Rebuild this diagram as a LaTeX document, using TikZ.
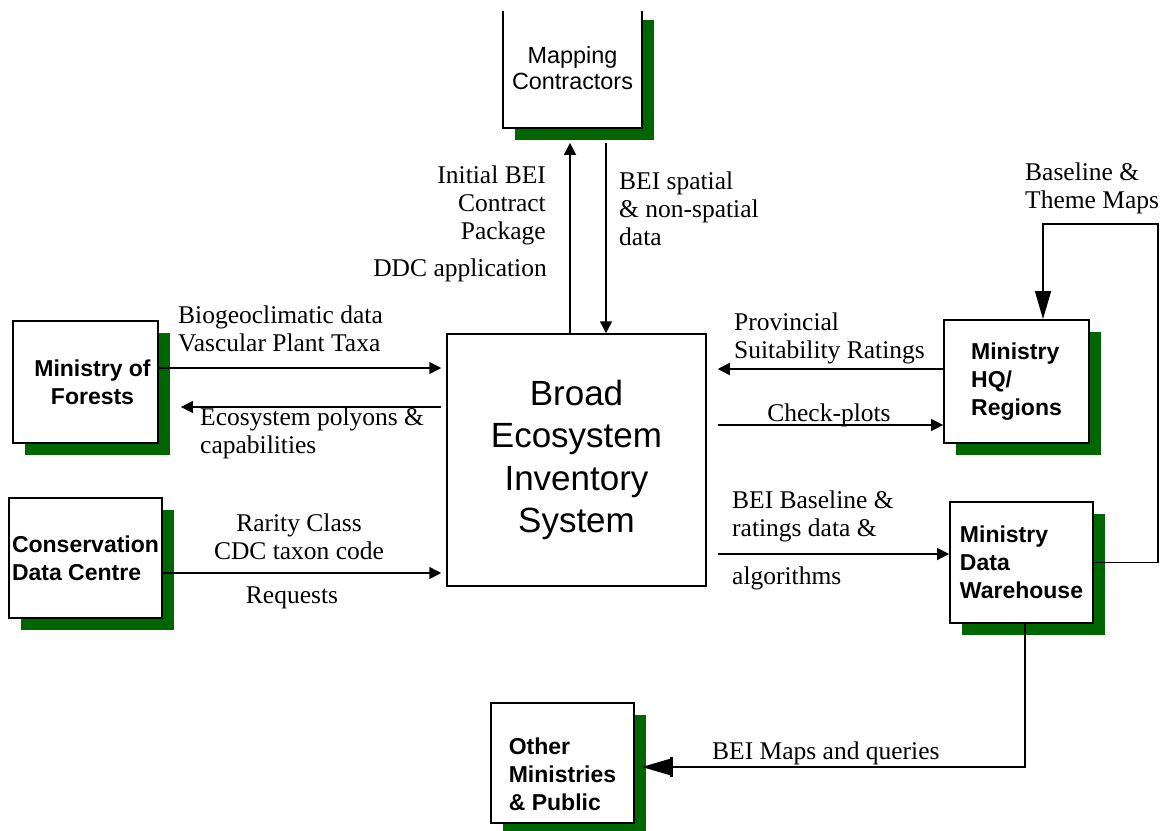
\documentclass[tikz,border=0pt]{standalone}
\usepackage{fontspec}
\setmainfont{Liberation Serif}
\setsansfont{Liberation Sans}
\usetikzlibrary{arrows.meta, shadows, positioning}
\definecolor{boxGreen}{HTML}{006600}

\begin{document}
\begin{tikzpicture}[x=1pt, y=-1pt]
        % Styles
        \tikzstyle{box} = [rectangle, draw=black, line width=1.8pt, fill=white, align=left, inner sep=2pt, font=\sffamily\bfseries\fontsize{23}{28}\selectfont, drop shadow={shadow xshift=12pt, shadow yshift=-12pt, fill=boxGreen, opacity=1}]
        \tikzstyle{system} = [rectangle, draw=black, line width=1.5pt, fill=white, align=center, minimum width=259pt, minimum height=252pt, font=\sffamily\fontsize{35}{42.5}\selectfont]
        \tikzstyle{arrow} = [line width=1.5pt, -{Triangle[length=12pt, width=12pt]}]
        \tikzstyle{bigarrow} = [line width=1.5pt, -{Triangle[length=28pt, width=16pt]}]
        \tikzstyle{desc} = [align=left, inner sep=0pt, font=\fontsize{25.5}{28}\selectfont]

        \useasboundingbox (0,0) rectangle (1169,830);
        \clip (0,11) rectangle (1169,830);

        % Nodes
        \node (map) [box, align=center, minimum width=139pt, minimum height=120pt, font=\sffamily\fontsize{23.4}{26}\selectfont] at (572.5,68) {Mapping\\Contractors};
        \node (mof) [box, align=center, minimum width=145pt, minimum height=122pt] at (85.5,382) {\hspace*{14pt}Ministry of\\\hspace*{14pt}Forests};
        \node (cdc) [box, minimum width=153pt, minimum height=120pt] at (85.5,558) {Conservation\\Data Centre};
        \node (bei) [system] at (576.5,460) {Broad\\Ecosystem\\Inventory\\System};
        \node (hq) [box, minimum width=145pt, minimum height=123pt] at (1016.5,381.5) {Ministry\\HQ/\\Regions};
        \node (dw) [box, minimum width=143pt, minimum height=121pt] at (1021.5,562.5) {Ministry\\Data\\Warehouse};
        \node (other) [box, minimum width=143pt, minimum height=120pt] at (562.5,763) {\rule{0pt}{40pt}Other\\Ministries\\\& Public};
        \coordinate (loop) at (1158,224);

        % Arrows
        \draw [arrow, shorten >=14pt] ([xshift=-6.5pt]bei.north) -- ([xshift=-6.5pt]bei.north |- map.south);
        \draw [arrow, shorten <=14pt] ([xshift=29.5pt]bei.north |- map.south) -- ([xshift=29.5pt]bei.north);

        \draw [arrow, shorten >=5pt] ([yshift=14pt]mof.east) -- ([yshift=14pt]mof.east -| bei.west);
        \draw [arrow, shorten <=5pt] ([yshift=-25pt]mof.east -| bei.west) -- ([xshift=22pt, yshift=-25pt]mof.east);
        \draw [arrow, shorten >=5pt] ([yshift=-15pt]cdc.east) -- ([yshift=-15pt]cdc.east -| bei.west);

        \draw [arrow, shorten >=11pt] ([yshift=12.5pt]hq.west) -- ([yshift=12.5pt]hq.west -| bei.east);
        \draw [arrow, shorten <=11pt] ([yshift=-43.5pt]hq.west -| bei.east) -- ([yshift=-43.5pt]hq.west);
        \draw [arrow, shorten <=11pt] ([yshift=8.5pt]dw.west -| bei.east) -- ([yshift=8.5pt]dw.west);

        \draw [bigarrow] (dw.east) -| (loop) -| ([xshift=26.5pt]hq.north);
        \draw [line width=1.5pt, -{Bar[width=20pt, line width=3pt] Triangle[length=28pt, width=16pt]}] ([xshift=3.5pt]dw.south) |- ([xshift=7pt, yshift=-4pt]other.east);

        % Labels
        \node [desc, anchor=east, align=right] (d1) at (546,205) {Initial BEI\\Contract\\Package};
        \node [desc, anchor=east] (d2) at (547,270) {DDC application};
        \node [desc, anchor=west] (d3) at (619,209) {BEI spatial\\\& non-spatial\\data};
        \node [desc, anchor=west] (d4) at (178,329) {Biogeoclimatic data\\Vascular Plant Taxa};
        \node [desc, anchor=west] (d5) at (200,433) {Ecosystem polyons \&\\capabilities};
        \node [desc, align=center] (d6) at (299,537) {Rarity Class\\CDC taxon code};
        \node [desc] (d7) at (292,598) {Requests};
        \node [desc, anchor=west] (d8) at (734,338) {Provincial\\Suitability Ratings};
        \node [desc] (d9) at (829,415) {Check-plots};
        \node [desc, anchor=west] (d10) at (732,516) {BEI Baseline \&\\ratings data \&};
        \node [desc, anchor=west] (d11) at (732,578) {algorithms};
        \node [desc, anchor=west] (d12) at (1025,188) {Baseline \&\\Theme Maps};
        \node [desc, anchor=west] (d13) at (712,753) {BEI Maps and queries};

    \end{tikzpicture}
\end{document}
